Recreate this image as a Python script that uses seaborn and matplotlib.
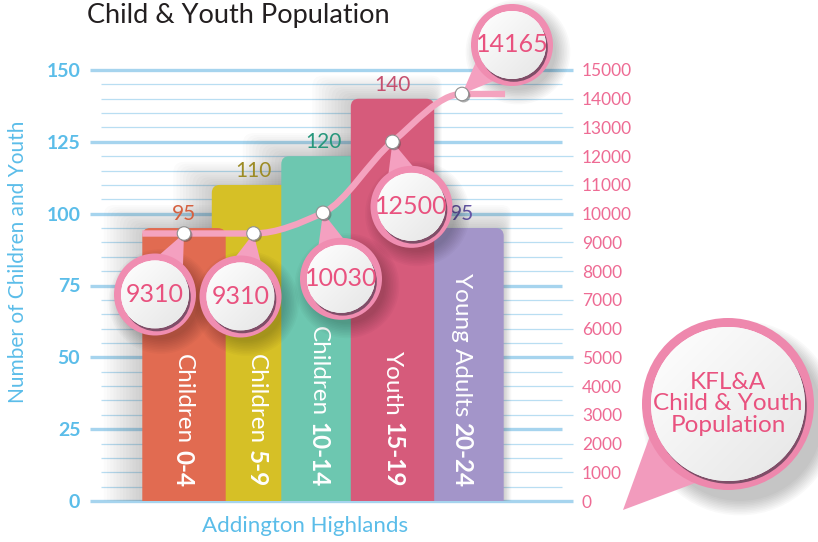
import numpy as np
import pandas as pd
import matplotlib
matplotlib.use("Agg")
import matplotlib.pyplot as plt
import matplotlib.patheffects as pe
import seaborn as sns
from matplotlib.path import Path
from matplotlib.patches import PathPatch, Circle, Polygon, FancyBboxPatch

# ---- data -------------------------------------------------------------
groups = ["Children", "Children", "Children", "Youth", "Young Adults"]
age_ranges = ["0-4", "5-9", "10-14", "15-19", "20-24"]
local_counts = [95, 110, 120, 140, 95]                 # Addington Highlands
regional_counts = [9310, 9310, 10030, 12500, 14165]    # KFL&A
left_ticks = [0, 25, 50, 75, 100, 125, 150]
right_ticks = list(range(0, 15001, 1000))

# ---- styling ----------------------------------------------------------
bar_colors = ["#e16b51", "#d6c026", "#6dc7b0", "#d65b7b", "#a395c9"]
value_colors = ["#d5603f", "#9c8b25", "#27977c", "#c5506f", "#6656a6"]
bar_layers = [2.4, 2.0, 2.2, 2.4, 2.0]
text_shift_px = [-1, 3, -5, 0, 0]
callout_offsets = [(-29, -61), (-13, -63), (18, -66), (19, -65), (50, 49)]
blue = "#5bbde9"
pink_text = "#e9527f"
ring = "#f08db1"
tail = "#f4a0c0"

sns.set_theme(style="white")
plt.rcParams["font.family"] = ["Lato", "DejaVu Sans"]

W, H = 818, 542
fig = plt.figure(figsize=(W / 100, H / 100), dpi=100)
fig.patch.set_facecolor("white")
ax = fig.add_axes([90 / W, 41 / H, 485 / W, 431 / H])

df = pd.DataFrame({"age": age_ranges, "group": groups, "count": local_counts})
sns.barplot(data=df, x="age", y="count", hue="age", palette=bar_colors,
            width=1.2, dodge=False, legend=False, saturation=1, ax=ax)

x_lo, x_hi = -1.3525, 5.626
ax.set_xlim(x_lo, x_hi)
ax.set_ylim(0, 150)
for s in ax.spines.values():
    s.set_visible(False)

# horizontal guide lines
ytf = ax.get_yaxis_transform()
for v in range(0, 151, 5):
    major = v % 25 == 0
    x0 = 0.0 if major else 11 / 485
    x1 = 0.9959 if v % 10 == 0 else 472 / 485
    ax.plot([x0, x1], [v, v], transform=ytf, color="#a6d4ee" if major else "#b9def2",
            lw=2.4 if major else 0.9, zorder=0.5, solid_capstyle="butt", clip_on=False)

# rounded bars built from the seaborn rectangles
px_per_x = 485 / (x_hi - x_lo)
px_per_y = 431 / 150
aspect = px_per_x / px_per_y
rects = [c.patches[0] for c in ax.containers]
for i, r in enumerate(rects):
    r.set_visible(False)
    x, w, h = r.get_x(), r.get_width(), r.get_height()
    # soft haze behind each bar
    for k in range(12):
        grow = (k + 1) * 3.2 / px_per_x
        ax.add_patch(FancyBboxPatch((x - grow, -5), w + grow * 1.2, h + 5 + grow * aspect * 0.6,
                                    boxstyle="round,pad=0,rounding_size=0.15",
                                    mutation_aspect=aspect, fc="#555555", ec="none",
                                    alpha=0.022, zorder=1.0))
    ax.add_patch(FancyBboxPatch((x, -5), w, h + 5, boxstyle="round,pad=0,rounding_size=0.115",
                                mutation_aspect=aspect, fc=bar_colors[i], ec="none",
                                zorder=bar_layers[i]))

# value labels above bars
for i, c in enumerate(ax.containers):
    t = ax.bar_label(c, fmt="%d", padding=3, fontsize=15, color=value_colors[i])
    for tt in t:
        tt.set_zorder(3)

ax.set_xticks([])
ax.set_yticks(left_ticks)
ax.tick_params(axis="y", length=0, pad=7, labelsize=14, labelcolor=blue)
for lab in ax.get_yticklabels():
    lab.set_fontweight("bold")
ax.set_ylabel("Number of Children and Youth", color=blue, fontsize=15)
ax.yaxis.set_label_coords((18 - 90) / 485, (501 - 262) / 431)
ax.yaxis.label.set_va("center")
ax.set_xlabel("Addington Highlands", color=blue, fontsize=16)
ax.xaxis.set_label_coords((305.5 - 90) / 485, (501 - 526) / 431)
ax.xaxis.label.set_va("center")

# right axis: regional population
ax2 = ax.twinx()
ax2.set_ylim(0, 15000)
ax2.set_yticks(right_ticks)
ax2.tick_params(axis="y", length=0, pad=5, labelsize=12.5, labelcolor="#ee6b94")
for s in ax2.spines.values():
    s.set_visible(False)
ax2.grid(False)

# smooth monotone curve through the regional values
xs = np.array([-0.6, 0, 1, 2, 3, 4, 4.62])
ys = np.array([regional_counts[0]] + regional_counts + [regional_counts[-1]], dtype=float)
h = np.diff(xs)
dl = np.diff(ys) / h
m = np.zeros_like(ys)
m[0], m[-1] = dl[0], dl[-1]
for i in range(1, len(xs) - 1):
    if dl[i - 1] * dl[i] <= 0:
        m[i] = 0
    else:
        w1 = 2 * h[i] + h[i - 1]
        w2 = h[i] + 2 * h[i - 1]
        m[i] = (w1 + w2) / (w1 / dl[i - 1] + w2 / dl[i])
verts = [(xs[0], ys[0])]
codes = [Path.MOVETO]
for i in range(len(xs) - 1):
    verts += [(xs[i] + h[i] / 3, ys[i] + m[i] * h[i] / 3),
              (xs[i + 1] - h[i] / 3, ys[i + 1] - m[i + 1] * h[i] / 3),
              (xs[i + 1], ys[i + 1])]
    codes += [Path.CURVE4] * 3
ax2.add_patch(PathPatch(Path(verts, codes), fill=False, lw=4.6, ec="#f4a3bf",
                        capstyle="butt", zorder=4))
sns.scatterplot(x=list(range(len(regional_counts))), y=regional_counts, ax=ax2, s=95,
                color="white", edgecolor="#8f8f8f", linewidth=0.8, zorder=6, legend=False)
ax2.collections[-1].set_path_effects([pe.SimplePatchShadow(offset=(1.2, -1.2), alpha=0.45),
                                      pe.Normal()])
ax2.set_xlim(x_lo, x_hi)

# overlay in pixel units for callouts
ov = fig.add_axes([0, 0, 1, 1])
ov.set_xlim(0, W)
ov.set_ylim(0, H)
ov.set_autoscale_on(False)
ov.axis("off")
ov.patch.set_visible(False)
ax.set_zorder(1)
ov.set_zorder(2)
ax2.set_zorder(3)

gy, gx = np.mgrid[0:1:64j, 0:1:64j]
shade = 1.0 - 0.10 * (0.5 * gx + 0.5 * gy)
grad = np.dstack([shade, shade, shade])


def callout(cx, cy, tip, r_out, r_in, label, fs, ring_c=ring, tail_c=tail,
            shadow=(6, -7), z=5, spread=0.38, lines=1.0):
    for k in range(10):
        ov.add_patch(Circle((cx + shadow[0], cy + shadow[1]), r_out - 3 + k * 1.6,
                            color="black", alpha=0.022, lw=0, zorder=z))
    ang = np.arctan2(tip[1] - cy, tip[0] - cx)
    rb = r_out - 3
    b1 = (cx + rb * np.cos(ang + spread), cy + rb * np.sin(ang + spread))
    b2 = (cx + rb * np.cos(ang - spread), cy + rb * np.sin(ang - spread))
    ov.add_patch(Polygon([b1, tip, b2], closed=True, fc=tail_c, ec="none", zorder=z + 0.1))
    ov.add_patch(Circle((cx, cy), r_out, fc=ring_c, ec="none", zorder=z + 0.2))
    ov.add_patch(Circle((cx + 1.8, cy - 2.8), r_in, fc="#7f4e68", ec="none", zorder=z + 0.3))
    white = Circle((cx, cy), r_in, fc="white", ec="none", zorder=z + 0.4)
    ov.add_patch(white)
    im = ov.imshow(grad, extent=(cx - r_in, cx + r_in, cy - r_in, cy + r_in),
                   zorder=z + 0.45, aspect="auto", interpolation="bilinear")
    im.set_clip_path(white)
    ov.text(cx, cy, label, ha="center", va="center", color=pink_text, fontsize=fs,
            zorder=z + 0.5, linespacing=lines)


for i, v in enumerate(regional_counts):
    px, py = ax2.transData.transform((i, v))
    dx, dy = callout_offsets[i]
    callout(px + dx, py + dy, (px, py), 41, 34, f"{v}", 18)

# KFL&A badge
callout(728, 138, (623, 32), 86, 77, "KFL&A\nChild & Youth\nPopulation", 17.5,
        ring_c="#ee88ad", tail_c="#f29bbd", shadow=(12, -14), spread=0.42, lines=1.05)
ov.set_xlim(0, W)
ov.set_ylim(0, H)

# title
fig.text(87 / W, 1 - 16 / H, "Child & Youth Population", ha="left", va="center",
         fontsize=19.5, color="#231f20")

# vertical labels inside the bars
fig.canvas.draw()
renderer = fig.canvas.get_renderer()
for i, (g, a) in enumerate(zip(groups, age_ranges)):
    bx, by = ax.transData.transform((i, 0))
    bx += text_shift_px[i]
    base_y = by + 14
    tb = ov.text(bx, base_y, a, rotation=-90, rotation_mode="anchor", ha="right", va="center",
                 color="white", fontsize=17.5, fontweight="bold", zorder=4)
    ext = tb.get_window_extent(renderer)
    ov.text(bx, base_y + ext.height + 6, g, rotation=-90, rotation_mode="anchor",
            ha="right", va="center", color="white", fontsize=17.5, zorder=4)

fig.savefig("out.png", dpi=100, facecolor="white")
